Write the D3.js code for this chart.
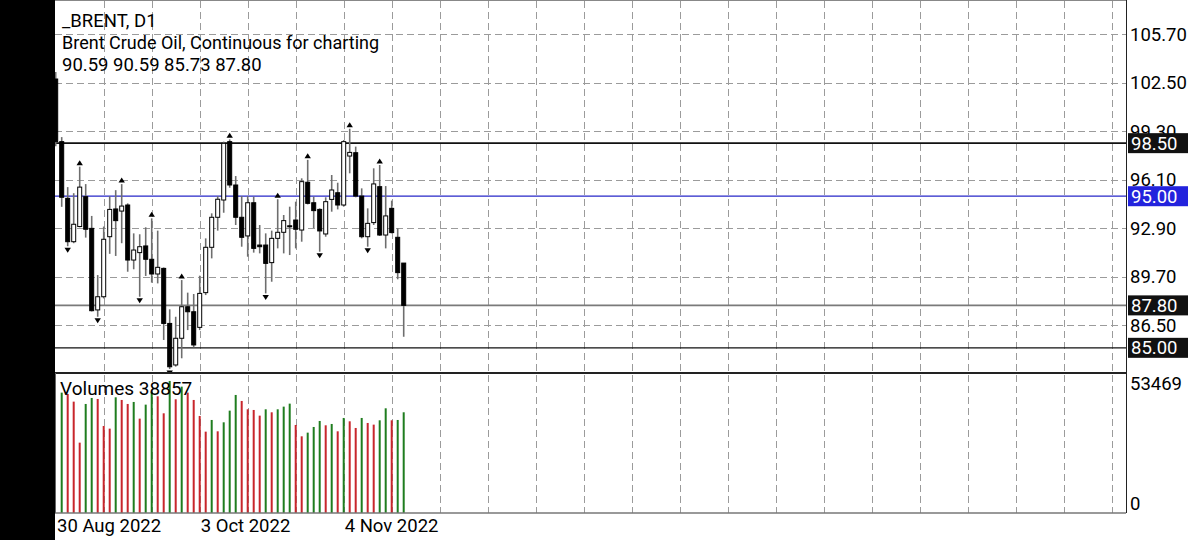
<!DOCTYPE html>
<html><head><meta charset="utf-8">
<script src="https://cdn.jsdelivr.net/npm/d3@7"></script>
<style>body{margin:0;background:#fff;overflow:hidden;} svg{display:block;font-family:Roboto, "Noto Sans", sans-serif;}</style>
</head><body><svg id="c" width="1200" height="540"></svg>
<script>
// ---- data (bar index -1 .. 57) ----
const dates = ["2022-08-30","2022-08-31",
"2022-09-01","2022-09-02","2022-09-05","2022-09-06","2022-09-07","2022-09-08","2022-09-09","2022-09-12","2022-09-13","2022-09-14","2022-09-15","2022-09-16","2022-09-19","2022-09-20","2022-09-21","2022-09-22","2022-09-23","2022-09-26","2022-09-27","2022-09-28","2022-09-29","2022-09-30",
"2022-10-03","2022-10-04","2022-10-05","2022-10-06","2022-10-07","2022-10-10","2022-10-11","2022-10-12","2022-10-13","2022-10-14","2022-10-17","2022-10-18","2022-10-19","2022-10-20","2022-10-21","2022-10-24","2022-10-25","2022-10-26","2022-10-27","2022-10-28","2022-10-31",
"2022-11-01","2022-11-02","2022-11-03","2022-11-04","2022-11-07","2022-11-08","2022-11-09","2022-11-10","2022-11-11","2022-11-14","2022-11-15","2022-11-16","2022-11-17","2022-11-18"];
const open = [102.73,98.60,94.86,92.00,93.00,94.97,92.88,87.50,88.37,92.33,94.16,94.02,94.42,90.79,91.28,91.72,90.84,89.87,90.24,86.61,83.87,85.63,87.71,87.38,86.35,88.64,91.63,93.61,94.75,98.60,95.74,93.61,92.38,94.57,91.78,91.78,90.62,92.22,92.62,93.05,93.43,92.77,95.92,94.57,94.13,92.51,94.79,95.23,94.42,97.65,97.87,95.01,92.33,93.26,95.63,92.44,94.20,92.29,90.59];
const high = [103.20,98.90,95.60,95.20,96.95,95.80,93.70,89.80,93.00,95.00,95.40,95.80,94.53,92.55,92.49,92.95,93.54,92.73,90.30,87.54,87.05,89.47,88.64,88.55,89.76,92.22,93.87,95.01,98.60,98.75,96.33,95.01,95.01,94.97,93.10,92.55,92.73,94.80,93.76,94.31,94.64,96.18,97.40,94.97,94.20,94.93,96.40,95.89,98.71,99.45,98.27,95.52,94.20,96.84,97.06,95.67,94.71,92.88,90.59];
const low = [98.30,94.30,91.70,91.90,92.95,92.27,87.40,87.05,88.26,91.20,91.06,91.90,90.02,90.18,88.37,89.74,89.30,89.25,85.52,83.60,83.76,84.31,86.17,85.03,86.17,88.48,90.90,92.73,93.91,95.56,93.10,91.67,91.01,91.28,91.23,88.59,89.36,91.56,91.23,91.12,91.56,92.00,94.46,92.90,91.34,92.33,93.98,94.13,94.31,96.51,94.93,92.22,91.67,93.10,92.38,91.56,92.55,89.52,85.73];
const close = [98.60,94.93,92.00,93.15,95.60,92.82,87.45,88.37,92.16,94.13,93.39,94.35,90.79,91.45,91.67,90.84,89.87,90.31,86.61,83.75,85.63,87.71,87.38,85.19,88.59,91.63,93.61,94.80,98.49,95.74,93.61,92.29,94.57,91.56,91.67,90.57,92.22,92.62,93.39,93.00,92.82,95.96,94.53,94.05,92.71,94.64,95.41,94.42,98.60,97.89,95.01,92.33,93.21,95.81,92.44,93.70,92.60,89.96,87.80];
const volume = [null,46437,45922,42963,27141,42063,44379,43993,33573,32544,44636,43607,42063,42835,36403,41806,46694,45022,38461,50939,43864,48751,46437,43607,37432,31386,35889,31515,34989,39490,45536,43221,40005,39748,37561,40005,38847,40005,41034,42191,33959,29586,31001,33187,35503,33831,34345,31515,36661,35374,32802,36661,34731,34088,35760,40391,35760,35889,38857];
const fractalUp = [3,10,15,20,28,36,41,48,53];
const fractalDown = [1,6,13,18,34,43,51];
const levels = [98.50, 95.00, 85.00];
const priceTicks = [105.70,102.50,99.30,96.10,92.90,89.70,86.50];
const volumeTicks = [53469, 0];
const timeLabels = ["30 Aug 2022","3 Oct 2022","4 Nov 2022"];
const symbol = "_BRENT, D1";
const description = "Brent Crude Oil, Continuous for charting";
const firstIndex = -1;

// ---- layout ----
const L = 55, R = 1126, T = 1, SEP = 373, B = 513;
const svg = d3.select("#c");
const x = d3.scaleLinear().domain([-1, 57]).range([55.7, 403.7]);
const y = d3.scaleLinear().domain([83.34, 107.81]).range([SEP, 2]);
const yv = d3.scaleLinear().domain([0, 53469]).range([B, 374.4]);
const bars = dates.map((d,k)=>({i:k+firstIndex, date:d3.timeParse("%Y-%m-%d")(d), o:open[k], h:high[k], l:low[k], c:close[k], v:volume[k]}));
const byIdx = new Map(bars.map(b=>[b.i,b]));

svg.append("rect").attr("width",1200).attr("height",540).attr("fill","#fff");
const defs = svg.append("defs");
defs.append("clipPath").attr("id","pp").append("rect").attr("x",L).attr("y",T).attr("width",R-L).attr("height",SEP-T);
defs.append("clipPath").attr("id","vp").append("rect").attr("x",L+1).attr("y",SEP).attr("width",R-L-1).attr("height",B-SEP);

// grid
const grid = svg.append("g").attr("stroke","#9b9b9b").attr("stroke-width",1).attr("stroke-dasharray","7,4").attr("fill","none");
grid.selectAll("line.h").data(priceTicks).join("line").attr("class","h")
  .attr("x1",L).attr("x2",R).attr("y1",d=>Math.round(y(d))+0.5).attr("y2",d=>Math.round(y(d))+0.5);
const vIdx = d3.range(firstIndex+8, 200, 8).filter(i=>x(i) < R-4);
grid.selectAll("line.v").data(vIdx).join("line").attr("class","v")
  .attr("x1",d=>Math.round(x(d))+0.5).attr("x2",d=>Math.round(x(d))+0.5).attr("y1",T).attr("y2",B);

// level lines
const lv = svg.append("g");
const levelColor = [ "#111", "#2727c8", "#111" ];
const levelWidth = [1.6, 1.2, 1.3];
lv.selectAll("line").data(levels).join("line")
  .attr("x1",L).attr("x2",R).attr("y1",d=>y(d)).attr("y2",d=>y(d))
  .attr("stroke",(d,k)=>levelColor[k]).attr("stroke-width",(d,k)=>levelWidth[k]);
const last = bars[bars.length-1];
lv.append("line").attr("x1",L).attr("x2",R).attr("y1",y(last.c)).attr("y2",y(last.c)).attr("stroke","#7a7a7a").attr("stroke-width",1.8);

// candles
const cg = svg.append("g").attr("clip-path","url(#pp)");
const bw = 4;
cg.selectAll("line.w").data(bars).join("line").attr("class","w")
  .attr("x1",d=>x(d.i)).attr("x2",d=>x(d.i)).attr("y1",d=>y(d.h)).attr("y2",d=>y(d.l))
  .attr("stroke","#6e6e6e").attr("stroke-width",1.6);
cg.selectAll("rect.b").data(bars).join("rect").attr("class","b")
  .attr("x",d=>x(d.i)-bw/2).attr("width",bw)
  .attr("y",d=>y(Math.max(d.o,d.c))).attr("height",d=>Math.max(1,Math.abs(y(d.o)-y(d.c))))
  .attr("fill",d=>d.c>=d.o?"#fff":"#000").attr("stroke","#000").attr("stroke-width",1);
// fractal arrows
const tri = 3.2;
cg.selectAll("path.fu").data(fractalUp.map(i=>byIdx.get(i))).join("path").attr("class","fu")
  .attr("d",d=>{const cx=x(d.i), yb=y(d.h)-1.5; return `M${cx-tri},${yb}L${cx+tri},${yb}L${cx},${yb-5}Z`;}).attr("fill","#000");
cg.selectAll("path.fd").data(fractalDown.map(i=>byIdx.get(i))).join("path").attr("class","fd")
  .attr("d",d=>{const cx=x(d.i), yt=y(d.l)+1.5; return `M${cx-tri},${yt}L${cx+tri},${yt}L${cx},${yt+5}Z`;}).attr("fill","#000");

// volumes
const vg = svg.append("g").attr("clip-path","url(#vp)");
vg.selectAll("rect").data(bars.filter(b=>b.v!=null)).join("rect")
  .attr("x",d=>x(d.i)-1).attr("width",2).attr("y",d=>yv(d.v)).attr("height",d=>B-yv(d.v))
  .attr("fill",d=>{const p=byIdx.get(d.i-1); return (p && p.v!=null && d.v<p.v)?"#c8262c":"#1f7d1f";});

// frame
svg.append("line").attr("x1",L).attr("x2",R).attr("y1",SEP).attr("y2",SEP).attr("stroke","#222").attr("stroke-width",2);
svg.append("line").attr("x1",L).attr("x2",R).attr("y1",B).attr("y2",B).attr("stroke","#777").attr("stroke-width",1.5);
svg.append("line").attr("x1",L).attr("x2",R).attr("y1",0.5).attr("y2",0.5).attr("stroke","#888").attr("stroke-width",1);
svg.append("line").attr("x1",R+0.5).attr("x2",R+0.5).attr("y1",0).attr("y2",B).attr("stroke","#222").attr("stroke-width",1);
svg.append("line").attr("x1",L+0.5).attr("x2",L+0.5).attr("y1",SEP).attr("y2",B).attr("stroke","#666").attr("stroke-width",1);
svg.append("rect").attr("x",0).attr("y",0).attr("width",L).attr("height",540).attr("fill","#000");

// axis labels
const fs = 18.5;
const ax = svg.append("g").attr("font-size",fs).attr("fill","#000");
ax.selectAll("text.p").data(priceTicks).join("text").attr("class","p")
  .attr("x",R+4).attr("y",d=>y(d)).attr("dy","0.36em").text(d=>d3.format(".2f")(d));
ax.selectAll("text.v").data(volumeTicks).join("text").attr("class","v")
  .attr("x",R+4).attr("y",(d,k)=>k===0?383:503).attr("dy","0.36em").text(d=>d);
// level boxes
const boxColor = ["#111","#2323dd","#111"];
const allBoxes = levels.map((v,k)=>({v, col:boxColor[k]})).concat([{v:last.c, col:"#111"}]);
const bx = svg.append("g");
bx.selectAll("rect").data(allBoxes).join("rect").attr("x",R+2).attr("width",60).attr("y",d=>y(d.v)-10).attr("height",20).attr("fill",d=>d.col);
bx.selectAll("text").data(allBoxes).join("text").attr("x",R+5).attr("y",d=>y(d.v)).attr("dy","0.36em")
  .attr("font-size",fs).attr("fill","#fff").text(d=>d3.format(".2f")(d.v));
// time labels
const labelIdx = [firstIndex, firstIndex+24, firstIndex+48];
svg.append("g").attr("font-size",fs).attr("fill","#000").selectAll("text").data(labelIdx).join("text")
  .attr("x",(d,k)=>k===0?L+2:x(d)+1).attr("y",532).text((d,k)=>timeLabels[k]);

// header
const hd = svg.append("g").attr("font-size",18).attr("fill","#000");
hd.append("text").attr("x",62).attr("y",27).attr("font-size",18.5).text(symbol);
hd.append("text").attr("x",62).attr("y",49).text(description);
const f2 = d3.format(".2f");
hd.append("text").attr("x",62).attr("y",71).attr("font-size",18.5).text(`${f2(last.o)} ${f2(last.h)} ${f2(last.l)} ${f2(last.c)}`);
hd.append("text").attr("x",60).attr("y",395).attr("font-size",19).text(`Volumes ${last.v}`);
</script></body></html>
